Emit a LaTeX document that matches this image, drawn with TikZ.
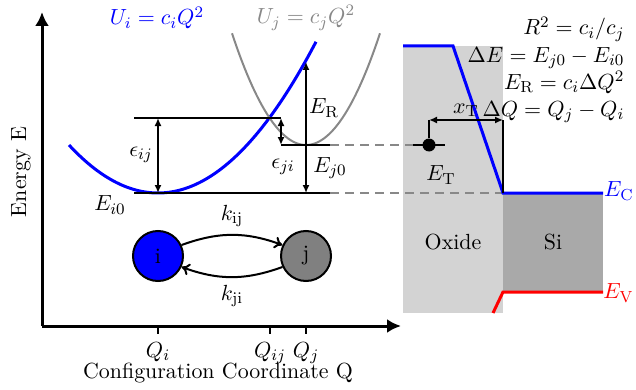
\documentclass[11pt,tikz,border=0pt]{standalone}
\usepackage{amsmath}
\usepackage{xcolor}
\usetikzlibrary{arrows.meta,positioning,calc}
\definecolor{oxide}{HTML}{D3D3D3}
\definecolor{silicon}{HTML}{A9A9A9}
\definecolor{curvegray}{HTML}{888888}

\begin{document}
\begin{tikzpicture}[x=0.5pt,y=-0.5pt,
  lvl/.style={line width=1pt},
  guide/.style={curvegray, line width=1pt, dash pattern=on 4.5pt off 3pt},
  arr/.style={{Latex[length=4pt,width=3.5pt]}-{Latex[length=4pt,width=3.5pt]}, line width=1pt},
  up/.style={-{Latex[length=4pt,width=3.5pt]}, line width=1pt},
  axis/.style={-{Latex[length=7pt,width=7pt]}, line width=1.5pt},
  state/.style={circle, draw, line width=1pt, minimum size=25pt, inner sep=0pt},
  rate/.style={-{To[length=4pt,width=6pt]}, line width=1pt}]
\useasboundingbox (0,0) rectangle (636,390);
% ----- band diagram (right)
\fill[oxide] (403,46) rectangle (503,313);
\fill[silicon] (503,193) rectangle (603,292);
\node (ox) at (453,242) {Oxide};
\node (si) at (553,242) {Si};
\draw[guide] (330,193) -- (503,193);
\draw[guide] (330,145) -- (413,145);
\draw[blue, line width=1.5pt] (403,46) -- (453,46) -- (503,193) -- (603,193);
\draw[red, line width=1.5pt] (493,313) -- (503,292) -- (603,292);
\node[blue, anchor=east, inner sep=0pt] (ec) at (634,191) {$E_{\mathrm{C}}$};
\node[red, anchor=east, inner sep=0pt] (ev) at (634,293) {$E_{\mathrm{V}}$};
\node[circle, fill, inner sep=0pt, minimum size=6.5pt] (trap) at (429,145) {};
\draw[lvl] (413,145) -- (445,145);
\coordinate (xa) at (429,120);
\coordinate (xb) at (503,120);
\draw[lvl] (trap) -- (xa);
\draw[lvl] (xb) -- (503,193);
\draw[arr] (xa) -- (xb) node[midway, above, inner sep=1pt] {$x_{\mathrm{T}}$};
\node (et) at (441,175) {$E_{\mathrm{T}}$};
\node[anchor=north east, align=right] (eqs) at (632,9) {$R^2 = c_i/c_j$\\ $\Delta E = E_{j0}-E_{i0}$\\ $E_{\mathrm{R}} = c_i\Delta Q^2$\\ $\Delta Q = Q_j - Q_i$};
% ----- axes
\coordinate (origin) at (42,326);
\draw[axis] (origin) -- (42,12);
\draw[axis] (origin) -- (401,326);
\node[rotate=90] (elabel) at (21,172) {Energy E};
\node[anchor=base] (qlabel) at (218,378) {Configuration Coordinate Q};
\foreach \x/\lab in {158/Q_i,270/Q_{ij},306/Q_j} {
  \draw[lvl] (\x,326) -- (\x,334);
  \node[anchor=base] at (\x,357) {$\lab$};
}
% ----- potential curves
\draw[blue, line width=1.5pt] plot[domain=69:316, samples=80] (\x, {193-0.00606*(\x-158)*(\x-158)});
\draw[curvegray, line width=1pt] plot[domain=232:380, samples=80] (\x, {145-0.0204*(\x-306)*(\x-306)});
\node[blue] (ui) at (157,18) {$U_i = c_iQ^2$};
\node[curvegray] (uj) at (306,18) {$U_j = c_jQ^2$};
% ----- levels and barriers
\coordinate (ei) at (158,193);
\coordinate (ej) at (306,145);
\draw[lvl] (134,118) -- (281,118);
\draw[lvl] (134,193) -- (330,193);
\draw[lvl] (281,145) -- (330,145);
\draw[arr] (158,118) -- (ei);
\draw[arr] (281,118) -- (281,145);
\draw[up] (ej) -- (306,62);
\draw[up] (ej) -- (306,193);
\node (eij) at (141,155) {$\epsilon_{ij}$};
\node (eji) at (283,167) {$\epsilon_{ji}$};
\node (er) at (324,108) {$E_{\mathrm{R}}$};
\node (ej0) at (330,168) {$E_{j0}$};
\node (ei0) at (110,205) {$E_{i0}$};
% ----- two-state model
\node[state, fill=blue] (i) at (158,256) {i};
\node[state, fill=gray] (j) at (306,256) {j};
\draw[rate] (i.25) to[bend left=20] node[above] {$k_{\mathrm{ij}}$} (j.155);
\draw[rate] (j.-155) to[bend left=20] node[below] {$k_{\mathrm{ji}}$} (i.-25);
\end{tikzpicture}
\end{document}
